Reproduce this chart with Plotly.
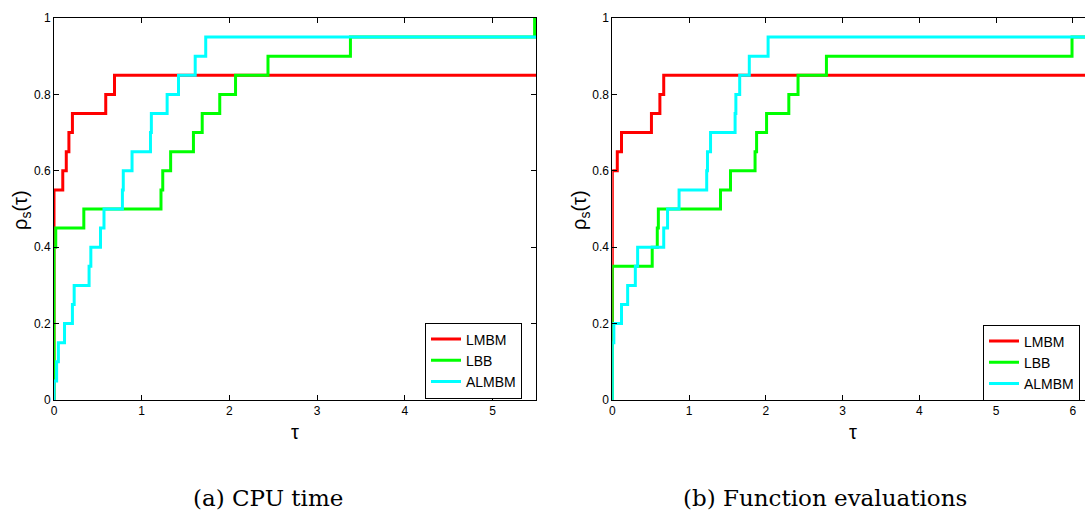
import plotly.graph_objects as go

# ---------------- data ----------------
series_names = ["LMBM", "LBB", "ALMBM"]
series_colors = ["#ff0000", "#00ff00", "#00ffff"]

# (a) CPU time
cpu_lmbm_tau = [0, 0, 0.10, 0.14, 0.17, 0.21, 0.59, 0.69, 5.5]
cpu_lmbm_rho = [0, 0.55, 0.60, 0.65, 0.70, 0.75, 0.80, 0.85, 0.85]
cpu_lbb_tau = [0, 0, 0.02, 0.34, 1.22, 1.24, 1.33, 1.59, 1.69, 1.89, 2.07, 2.44, 3.38, 5.48, 5.5]
cpu_lbb_rho = [0, 0.40, 0.45, 0.50, 0.55, 0.60, 0.65, 0.70, 0.75, 0.80, 0.85, 0.90, 0.95, 1.00, 1.00]
cpu_almbm_tau = [0, 0, 0.03, 0.05, 0.12, 0.21, 0.23, 0.40, 0.42, 0.53, 0.57, 0.78, 0.79, 0.89,
                 1.10, 1.11, 1.29, 1.42, 1.61, 1.73, 5.5]
cpu_almbm_rho = [0, 0.05, 0.10, 0.15, 0.20, 0.25, 0.30, 0.35, 0.40, 0.45, 0.50, 0.55, 0.60, 0.65,
                 0.70, 0.75, 0.80, 0.85, 0.90, 0.95, 0.95]

# (b) Function evaluations
fe_lmbm_tau = [0, 0, 0.065, 0.12, 0.51, 0.62, 0.67, 6.3]
fe_lmbm_rho = [0, 0.60, 0.65, 0.70, 0.75, 0.80, 0.85, 0.85]
fe_lbb_tau = [0, 0, 0.52, 0.586, 0.60, 1.41, 1.54, 1.86, 1.88, 2.01, 2.30, 2.42, 2.79, 5.99, 6.3]
fe_lbb_rho = [0, 0.35, 0.40, 0.45, 0.50, 0.55, 0.60, 0.65, 0.70, 0.75, 0.80, 0.85, 0.90, 0.95, 0.95]
fe_almbm_tau = [0, 0, 0.02, 0.12, 0.20, 0.30, 0.33, 0.67, 0.72, 0.87, 1.23, 1.24, 1.28,
                1.60, 1.61, 1.66, 1.785, 2.03, 6.3]
fe_almbm_rho = [0, 0.15, 0.20, 0.25, 0.30, 0.35, 0.40, 0.45, 0.50, 0.55, 0.60, 0.65, 0.70,
                0.75, 0.80, 0.85, 0.90, 0.95, 0.95]

x_ticks_a = [0, 1, 2, 3, 4, 5]
x_ticks_b = [0, 1, 2, 3, 4, 5, 6]
y_ticks = [0, 0.2, 0.4, 0.6, 0.8, 1]
y_tick_text = ["0", "0.2", "0.4", "0.6", "0.8", "1"]
x_title = "τ"
y_title = "ρ<sub>s</sub>(τ)"
captions = ["(a) CPU time", "(b) Function evaluations"]

# ---------------- figure ----------------
W, H = 1085, 511
fig = go.Figure()

panel_a = [(cpu_lmbm_tau, cpu_lmbm_rho), (cpu_lbb_tau, cpu_lbb_rho), (cpu_almbm_tau, cpu_almbm_rho)]
panel_b = [(fe_lmbm_tau, fe_lmbm_rho), (fe_lbb_tau, fe_lbb_rho), (fe_almbm_tau, fe_almbm_rho)]

for (tx, ry), name, col in zip(panel_a, series_names, series_colors):
    fig.add_trace(go.Scatter(x=tx, y=ry, mode="lines", name=name, line=dict(color=col, width=3, shape="hv"),
                             xaxis="x", yaxis="y", legend="legend"))
for (tx, ry), name, col in zip(panel_b, series_names, series_colors):
    fig.add_trace(go.Scatter(x=tx, y=ry, mode="lines", name=name, line=dict(color=col, width=3, shape="hv"),
                             xaxis="x2", yaxis="y2", legend="legend2"))

ydom = [1 - 400 / H, 1 - 18 / H]
axfont = dict(family="Liberation Sans, Arial, sans-serif", size=12, color="black")
common_x = dict(showgrid=False, zeroline=False, showline=True, linecolor="black", linewidth=1,
                ticks="inside", ticklen=5, tickcolor="black", tickfont=axfont)
common_y = dict(showgrid=False, zeroline=False, showline=True, linecolor="black", linewidth=1,
                ticks="inside", ticklen=5, tickcolor="black", tickfont=axfont,
                range=[0, 1], tickvals=y_ticks, ticktext=y_tick_text)

x1_left, x1_scale = 54.0, 87.7
x2_left, x2_scale = 612.3, 76.75
x1_max = 5.5
x2_max = (W - x2_left) / x2_scale

legend_font = dict(family="Liberation Sans, Arial, sans-serif", size=14, color="black")
fig.update_layout(
    width=W, height=H,
    margin=dict(l=0, r=0, t=0, b=0, autoexpand=False),
    paper_bgcolor="white", plot_bgcolor="white",
    xaxis=dict(domain=[x1_left / W, (x1_left + x1_max * x1_scale) / W], range=[0, x1_max],
               tickvals=x_ticks_a, ticktext=[str(v) for v in x_ticks_a], anchor="y", mirror="ticks",
               **common_x),
    yaxis=dict(domain=ydom, anchor="x", mirror="ticks", **common_y),
    xaxis2=dict(domain=[x2_left / W, 1.0], range=[0, x2_max], tickvals=x_ticks_b,
                ticktext=[str(v) for v in x_ticks_b], anchor="y2", mirror="ticks", **common_x),
    yaxis2=dict(domain=ydom, anchor="x2", mirror=False, **common_y),
    legend=dict(x=522 / W, xanchor="right", y=1 - 360.5 / H, yanchor="middle",
                bordercolor="black", borderwidth=1, bgcolor="white",
                font=legend_font, tracegroupgap=0, itemwidth=30),
    legend2=dict(x=1080 / W, xanchor="right", y=1 - 362.5 / H, yanchor="middle",
                 bordercolor="black", borderwidth=1, bgcolor="white",
                 font=legend_font, tracegroupgap=0, itemwidth=30),
    showlegend=True,
)

ann_font = dict(family="Liberation Sans, Arial, sans-serif", size=20, color="black")
cap_font = dict(family="DejaVu Serif, serif", size=23, color="black")


def ann(text, px, py, font, angle=0):
    return dict(text=text, x=px / W, y=1 - py / H, xref="paper", yref="paper", showarrow=False,
                xanchor="center", yanchor="middle", font=font, textangle=angle)


annotations = [
    ann(x_title, 295, 432, ann_font),
    ann(x_title, 853, 432, ann_font),
    ann(y_title, 21, 210, ann_font, -90),
    ann(y_title, 580, 210, ann_font, -90),
    ann(captions[0], 268, 498, cap_font),
    ann(captions[1], 825, 498, cap_font),
]
fig.update_layout(annotations=annotations)

fig.write_html("out.html", config={"displayModeBar": False},
               post_script="document.body.style.margin='0';document.body.style.overflow='hidden';")
